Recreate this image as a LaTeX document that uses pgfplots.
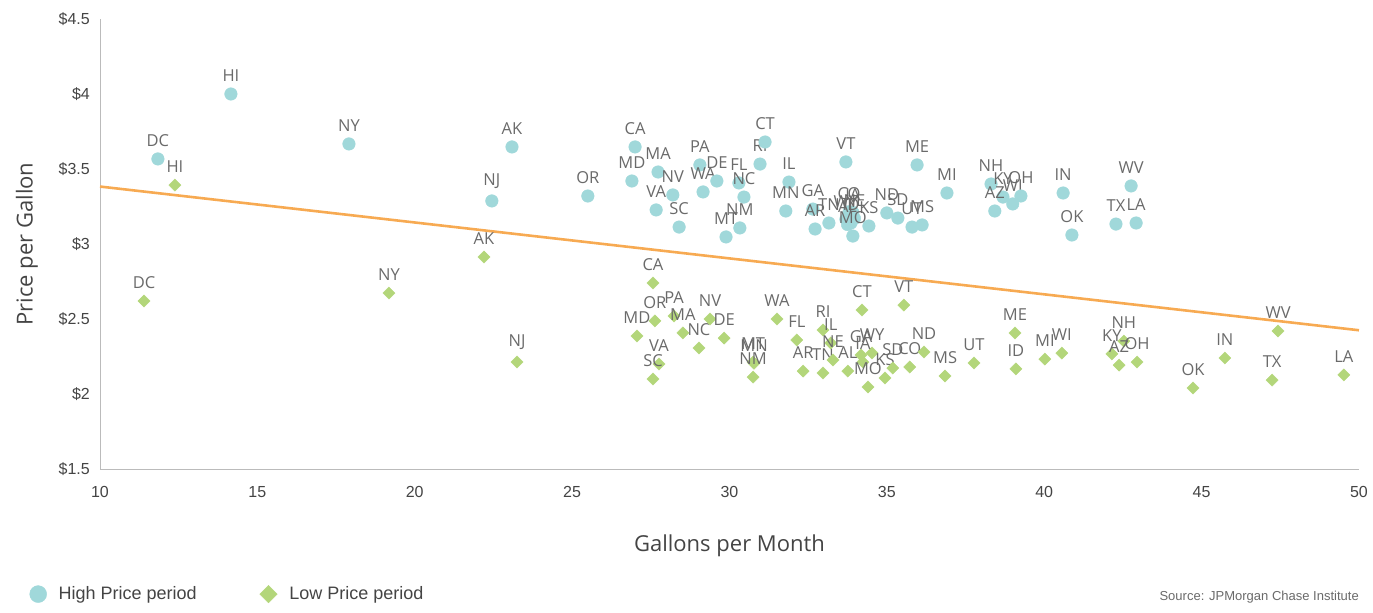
\documentclass[border=0pt]{standalone}
\usepackage{fontspec}
\setmainfont{Liberation Sans}
\newfontfamily\osans{Open Sans}
\usepackage{pgfplots}
\usepackage{pgfplotstable}
\pgfplotsset{compat=1.18}
\definecolor{hiC}{HTML}{A0D8DA}
\definecolor{loC}{HTML}{B3D67A}
\definecolor{lineC}{HTML}{F7AA52}
\definecolor{labC}{HTML}{6A6A6A}
\definecolor{tickC}{HTML}{444444}
\definecolor{axC}{HTML}{BBBBBB}

\pgfplotstableread{
x y lab
11.84 3.567 DC
14.16 4.000 HI
17.91 3.667 NY
23.09 3.647 AK
22.45 3.287 NJ
25.50 3.320 OR
27.00 3.647 CA
26.90 3.420 MD
27.73 3.480 MA
28.20 3.327 NV
27.67 3.227 VA
28.40 3.113 SC
29.06 3.527 PA
29.16 3.347 WA
29.60 3.420 DE
30.30 3.407 FL
30.46 3.313 NC
30.33 3.107 NM
29.89 3.047 MT
30.97 3.533 RI
31.13 3.680 CT
31.89 3.413 IL
31.79 3.220 MN
32.65 3.233 GA
32.72 3.100 AR
33.16 3.140 TN
33.80 3.215 CO
33.92 3.210 IA
33.70 3.165 WY
33.97 3.170 NE
33.75 3.130 AL
33.86 3.140 ID
33.70 3.547 VT
34.43 3.120 KS
33.92 3.053 MO
35.00 3.207 ND
35.35 3.173 SD
35.80 3.113 UT
36.12 3.127 MS
35.96 3.527 ME
36.91 3.340 MI
38.31 3.400 NH
38.69 3.313 KY
38.43 3.220 AZ
39.00 3.267 WI
39.26 3.320 OH
40.60 3.340 IN
40.88 3.060 OK
42.76 3.387 WV
42.28 3.133 TX
42.92 3.140 LA
}\high

\pgfplotstableread{
x y lab
12.38 3.393 HI
11.40 2.620 DC
19.18 2.673 NY
22.20 2.913 AK
23.25 2.213 NJ
27.57 2.740 CA
27.63 2.487 OR
27.06 2.387 MD
28.24 2.520 PA
28.52 2.407 MA
29.03 2.307 NC
29.38 2.500 NV
29.83 2.373 DE
27.76 2.200 VA
27.57 2.100 SC
30.75 2.213 MT
30.78 2.205 MN
30.75 2.113 NM
31.51 2.500 WA
32.14 2.360 FL
32.97 2.427 RI
32.34 2.153 AR
32.97 2.140 TN
33.22 2.340 IL
33.29 2.227 NE
33.76 2.153 AL
34.18 2.260 GA
34.53 2.273 WY
34.24 2.213 IA
34.40 2.047 MO
34.94 2.107 KS
35.19 2.173 SD
35.73 2.180 CO
36.18 2.280 ND
36.85 2.120 MS
37.77 2.207 UT
39.07 2.407 ME
39.10 2.167 ID
40.02 2.233 MI
40.56 2.273 WI
42.15 2.267 KY
42.53 2.353 NH
42.38 2.193 AZ
42.95 2.213 OH
44.73 2.040 OK
45.74 2.240 IN
47.24 2.093 TX
47.43 2.420 WV
49.52 2.127 LA
34.21 2.560 CT
35.54 2.593 VT
}\low

\begin{document}
\begin{tikzpicture}
\useasboundingbox (-100bp,-144bp) rectangle (1273bp,469bp);
\begin{axis}[
  scale only axis,
  width=1259bp, height=450bp,
  xmin=10, xmax=50, ymin=1.5, ymax=4.5,
  xtick={10,15,...,50},
  ytick={1.5,2,2.5,3,3.5,4,4.5},
  /pgf/number format/assume math mode=true,
  xticklabel={\pgfmathprintnumber{\tick}},
  yticklabel={\$\pgfmathprintnumber{\tick}},
  axis x line*=bottom, axis y line*=left,
  axis line style={draw=axC, line width=0.8bp, -},
  major tick length=0pt,
  tick label style={font=\fontsize{16bp}{19bp}\selectfont, text=tickC},
  yticklabel style={anchor=east, inner sep=0pt, xshift=-10bp},
  xticklabel style={anchor=north, inner sep=0pt, yshift=-17bp},
  xlabel={Gallons per Month},
  ylabel={Price per Gallon},
  every axis x label/.style={at={(axis description cs:0.5,0)}, anchor=center, yshift=-77bp, font=\osans\fontsize{22bp}{26bp}\selectfont, text=tickC},
  every axis y label/.style={at={(axis description cs:0,0.5)}, rotate=90, anchor=center, yshift=73bp, font=\osans\fontsize{22bp}{26bp}\selectfont, text=tickC},
  clip=false,
  point meta=explicit symbolic,
  every node near coord/.style={anchor=south, inner sep=0pt, yshift=12bp, font=\osans\fontsize{16.5bp}{19bp}\selectfont, text=labC},
  legend columns=2,
  legend style={draw=none, fill=none, at={(axis description cs:-0.056,-0.278)}, anchor=west, inner sep=0pt,
    font=\fontsize{18bp}{21bp}\selectfont, text=tickC,
    /tikz/every odd column/.append style={column sep=6bp},
    /tikz/every even column/.append style={column sep=57bp},
    nodes={inner xsep=6bp}},
]
\addlegendimage{only marks, color=hiC, mark=*, mark size=8.5bp, mark options={fill=hiC, draw=hiC}}
\addlegendentry{High Price period}
\addlegendimage{only marks, color=loC, mark=square*, mark size=6.2bp, mark options={fill=loC, draw=loC, rotate=45}}
\addlegendentry{Low Price period}
\addplot[forget plot, lineC, line width=2.6bp, no marks] coordinates {(10,3.383) (50,2.425)};
\addplot[forget plot, only marks, color=hiC, mark=*, mark size=6.3bp, mark options={fill=hiC, draw=hiC}, nodes near coords] table[x=x, y=y, meta=lab] {\high};
\addplot[forget plot, only marks, color=loC, mark=square*, mark size=4.3bp, mark options={fill=loC, draw=loC, rotate=45}, nodes near coords] table[x=x, y=y, meta=lab] {\low};
\node[anchor=east, inner sep=0pt, font=\fontsize{13bp}{15bp}\selectfont, text=labC] at (rel axis cs:1,0) [yshift=-128bp] {Source: JPMorgan Chase Institute};
\end{axis}
\end{tikzpicture}
\end{document}
